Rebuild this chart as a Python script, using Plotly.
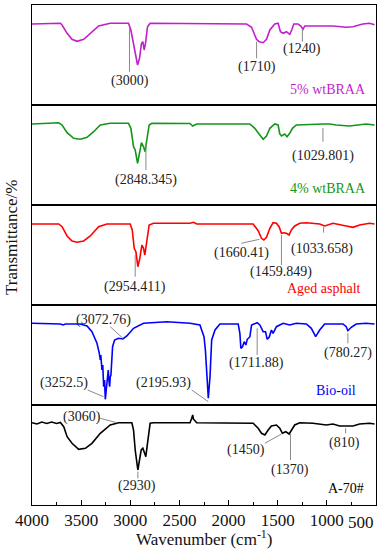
import plotly.graph_objects as go
from plotly.subplots import make_subplots

# ---------------- data (wavenumber cm-1, relative transmittance) ----------------
BRAA5_WN = [4000, 3728, 3711, 3694, 3643, 3593, 3542, 3474, 3407, 3322, 3204, 3018, 2994, 2967, 2950,
            2926, 2906, 2886, 2872, 2859, 2845, 2825, 2798, 2300, 1817, 1766, 1716, 1689, 1648, 1614,
            1580, 1530, 1496, 1472, 1445, 1411, 1378, 1357, 1337, 1293, 1266, 1242, 1225, 1175, 938,
            803, 735, 634, 566, 515]
BRAA5_T = [81, 81.5, 81.7, 80, 71.7, 65.7, 63.7, 65.7, 71.7, 79, 81.7, 81.7, 75, 61.7, 55,
           40, 46.7, 61.7, 63.3, 55, 61.7, 78.3, 81.7, 81.5, 81, 77.7, 65.7, 63.3, 62.3, 65.7,
           75, 81, 81.7, 73.3, 71.7, 73.3, 70.7, 75, 81, 81, 79, 75.7, 79, 79, 79,
           77.7, 78.3, 81, 81.7, 80.3]

BRAA4_WN = [4000, 3728, 3694, 3643, 3576, 3508, 3440, 3373, 3305, 3204, 3018, 2994, 2967, 2950, 2926,
            2906, 2886, 2865, 2849, 2832, 2808, 2781, 2392, 2365, 2324, 1783, 1733, 1682, 1648, 1614,
            1580, 1530, 1496, 1479, 1462, 1428, 1405, 1378, 1350, 1310, 1175, 1039, 972, 904, 769,
            667, 600, 515]
BRAA4_T = [81, 82.3, 80, 72.3, 66.7, 65.7, 67.7, 73.3, 80, 81.7, 81.7, 76.7, 58.3, 55, 41.7,
           51.7, 62.3, 58.3, 53.3, 65, 80, 81.7, 81.5, 79, 81, 81, 76.7, 70, 65.7, 69,
           76.7, 81, 80, 71, 69, 71, 68.3, 71.7, 76.7, 80, 80.7, 81, 81, 80, 79,
           80, 81, 80]

AGED_WN = [4000, 3728, 3694, 3643, 3593, 3542, 3474, 3407, 3322, 3238, 3001, 2980, 2960, 2943, 2923,
           2903, 2882, 2865, 2852, 2832, 2808, 2764, 2392, 2358, 2324, 1750, 1699, 1665, 1641, 1614,
           1580, 1547, 1513, 1486, 1462, 1438, 1411, 1384, 1361, 1327, 1276, 1208, 1073, 1022, 989,
           938, 803, 735, 667, 566, 515]
AGED_T = [81, 81, 78.3, 69, 64, 62.7, 64, 69, 78.3, 81, 81, 75, 56.7, 53.3, 38.3,
          46.7, 60, 56.7, 50, 61.7, 80, 81.7, 81.7, 82.7, 81, 81, 74.3, 66.7, 65, 67.7,
          76.7, 82.3, 81.7, 78.3, 71.7, 72.3, 71.7, 70, 75, 79, 81.7, 82.3, 81, 79, 80,
          81.7, 79, 77.7, 80, 81.7, 81]

BIO_WN = [4000, 3711, 3684, 3660, 3508, 3440, 3390, 3339, 3315, 3305, 3300, 3288, 3280, 3271, 3262,
          3254, 3245, 3238, 3224, 3218, 3210, 3204, 3197, 3180, 3160, 3119, 3075, 3035, 2967, 2865,
          2629, 2392, 2291, 2274, 2250, 2236, 2223, 2206, 2189, 2172, 2138, 2088, 1902, 1885, 1875,
          1858, 1841, 1824, 1810, 1783, 1766, 1733, 1709, 1682, 1648, 1624, 1607, 1587, 1564, 1547,
          1513, 1445, 1378, 1310, 1208, 1158, 1114, 1073, 1022, 836, 803, 786, 752, 701, 600, 515]
BIO_T = [81.7, 81, 80, 81, 81, 79, 73.3, 61.7, 51.7, 45, 50, 35, 40, 18.3, 25,
         5.7, 15, 21.7, 35, 25, 18.3, 28, 30, 58.3, 65, 66.7, 66, 69, 76.7, 81.7,
         83.3, 81.7, 80, 75, 68.3, 55, 35, 6.7, 28.3, 65, 75, 81, 81, 71.7, 56.7,
         58.3, 63.3, 60, 65.7, 68.3, 80, 81.7, 82.3, 80, 73.3, 73.3, 65.7, 67.7, 75, 71.7,
         78.3, 81.7, 80, 81.7, 81, 76.7, 68.3, 75, 81, 81, 78.3, 74.3, 77.7, 81, 81.7, 81]

A70_WN = [4000, 3950, 3900, 3850, 3800, 3750, 3711, 3677, 3643, 3593, 3525, 3457, 3390, 3305, 3204,
          3119, 2984, 2967, 2950, 2933, 2923, 2906, 2889, 2872, 2855, 2842, 2825, 2798, 2764, 2392,
          2375, 2365, 2358, 2351, 2324, 1750, 1699, 1665, 1631, 1597, 1564, 1513, 1479, 1452, 1418,
          1384, 1361, 1327, 1276, 1141, 1006, 938, 870, 803, 735, 667, 566, 515]
A70_T = [82.3, 81, 83, 81.5, 83, 81.5, 82.5, 78.3, 68.3, 61.7, 55.7, 56.7, 61.7, 71.7, 80,
         82.3, 82.3, 75, 55, 45, 35, 45, 55, 56.7, 51.7, 48.3, 61.7, 81.7, 82.3, 82.3,
         86.7, 90, 86, 85, 82.3, 81.7, 76.7, 71.7, 70, 75, 79, 80, 76.7, 71.7, 73.3,
         71, 75, 80, 82.3, 81.7, 80, 81, 79, 79, 79, 81, 81.7, 81]

SERIES_NAMES = ["5% wtBRAA", "4% wtBRAA", "Aged asphalt", "Bio-oil", "A-70#"]
SERIES_WN = [BRAA5_WN, BRAA4_WN, AGED_WN, BIO_WN, A70_WN]
SERIES_T = [BRAA5_T, BRAA4_T, AGED_T, BIO_T, A70_T]
COLORS = ["#C21FCC", "#12961A", "#FF0000", "#0000FF", "#000000"]

TICK_VALS = [4000, 3500, 3000, 2500, 2000, 1500, 1000]
TICK_TEXT = ["4000", "3500", "3000", "2500", "2000", "1500", "1000"]
LAST_TICK = "500"
MINOR_VALS = [3750, 3250, 2750, 2250, 1750, 1250, 750]

# peak labels: (row, text, x, y)
PEAK_LABELS = [
    (1, "(3000)", 3008, 24), (1, "(1710)", 1715, 38.3), (1, "(1240)", 1249, 56),
    (2, "(2848.345)", 2841, 25), (2, "(1029.801)", 1040, 49),
    (3, "(2954.411)", 2950, 17.7), (3, "(1660.41)", 1868, 52.3), (3, "(1459.849)", 1462, 32.7),
    (3, "(1033.658)", 1046, 56),
    (4, "(3072.76)", 3272, 85), (4, "(3252.5)", 3677, 21.7), (4, "(2195.93)", 2663, 21.7),
    (4, "(1711.88)", 1715, 41.7), (4, "(780.27)", 786, 52.3),
    (5, "(3060)", 3491, 88.3), (5, "(2930)", 2933, 19), (5, "(1450)", 1821, 55),
    (5, "(1370)", 1378, 35), (5, "(810)", 820, 61.7),
]
# leader lines: (row, x0, y0, x1, y1)
LEADERS = [
    (1, 3008, 77.3, 3008, 33.3), (1, 1715, 63.3, 1715, 46.7), (1, 1249, 76, 1249, 63.3),
    (2, 2841, 62, 2841, 35), (2, 1040, 77, 1040, 63.3),
    (3, 2950, 50, 2950, 28.3), (3, 1871, 61.7, 1686, 65.7), (3, 1462, 70, 1462, 40),
    (3, 1033, 78, 1033, 72.3),
    (4, 3204, 78.3, 3075, 66.7), (4, 3434, 15, 3272, 8.3), (4, 2375, 15, 2206, 3.3),
    (4, 1709, 76.7, 1709, 50), (4, 786, 71.7, 786, 61.7),
    (5, 3305, 86.7, 3136, 82.3), (5, 2923, 33.3, 2923, 26.7), (5, 1631, 61.7, 1462, 71),
    (5, 1370, 71, 1370, 45), (5, 809, 76.7, 809, 71.7),
]
# series name labels: (row, right-edge x, y)
NAME_POS = [(1, 586, 15.7), (2, 586, 16), (3, 634, 16), (4, 684, 15), (5, 599, 16.7)]

FONT = "Liberation Serif, Times New Roman, serif"

fig = make_subplots(rows=5, cols=1, shared_xaxes=True, vertical_spacing=0)

for i in range(5):
    fig.add_trace(go.Scatter(x=SERIES_WN[i], y=SERIES_T[i], mode="lines",
                             line=dict(color=COLORS[i], width=1.6),
                             name=SERIES_NAMES[i], hoverinfo="skip"),
                  row=i + 1, col=1)

def ax(row, kind):
    return kind if row == 1 else f"{kind}{row}"

for row, x0, y0, x1, y1 in LEADERS:
    fig.add_shape(type="line", xref=ax(row, "x"), yref=ax(row, "y"),
                  x0=x0, y0=y0, x1=x1, y1=y1, line=dict(color="#8a8a8a", width=1))

annotations = []
for row, text, x, y in PEAK_LABELS:
    annotations.append(dict(xref=ax(row, "x"), yref=ax(row, "y"), x=x, y=y, text=text,
                            showarrow=False, xanchor="center", yanchor="middle",
                            font=dict(family=FONT, size=14, color="#222222")))
for (row, x, y), name, color in zip(NAME_POS, SERIES_NAMES, COLORS):
    annotations.append(dict(xref=ax(row, "x"), yref=ax(row, "y"), x=x, y=y, text=name,
                            showarrow=False, xanchor="right", yanchor="middle",
                            font=dict(family=FONT, size=14, color=color)))
# y-axis title
annotations.append(dict(xref="paper", yref="paper", x=-0.058, y=0.536, text="Transmittance/%",
                        textangle=-90, showarrow=False, xanchor="center", yanchor="middle",
                        font=dict(family=FONT, size=17, color="#111111")))
# last tick label, kept inside the picture as in the original
annotations.append(dict(xref="paper", yref="paper", x=1.0, y=-0.012, text=LAST_TICK,
                        showarrow=False, xanchor="right", yanchor="top",
                        font=dict(family=FONT, size=17, color="#111111")))
# x-axis title
annotations.append(dict(xref="paper", yref="paper", x=0.5, y=-0.066,
                        text="Wavenumber (cm<sup>-1</sup>)",
                        showarrow=False, xanchor="center", yanchor="middle",
                        font=dict(family=FONT, size=17, color="#111111")))
fig.update_layout(annotations=annotations)

for r in range(1, 6):
    common = dict(range=[4000, 500], showline=True, mirror=True, linecolor="black", linewidth=1,
                  showgrid=False, zeroline=False, automargin=False)
    if r == 5:
        fig.update_xaxes(row=r, col=1, **common, ticks="inside", ticklen=5, tickwidth=1,
                         tickcolor="black", tickmode="array", tickvals=TICK_VALS,
                         ticktext=TICK_TEXT,
                         tickfont=dict(family=FONT, size=17, color="#111111"),
                         minor=dict(ticks="inside", ticklen=3, tickcolor="black",
                                    tickmode="array", tickvals=MINOR_VALS))
    else:
        fig.update_xaxes(row=r, col=1, **common, ticks="", showticklabels=False)
    fig.update_yaxes(row=r, col=1, range=[0, 100], showline=True, mirror=True, linecolor="black",
                     linewidth=1, showgrid=False, zeroline=False, ticks="", showticklabels=False,
                     automargin=False)

fig.update_layout(width=390, height=550, margin=dict(l=32, r=14, t=5, b=45, autoexpand=False),
                  paper_bgcolor="white", plot_bgcolor="white", showlegend=False,
                  font=dict(family=FONT))

fig.write_html("out.html", config={"displayModeBar": False},
               post_script="document.body.style.margin='0';")
